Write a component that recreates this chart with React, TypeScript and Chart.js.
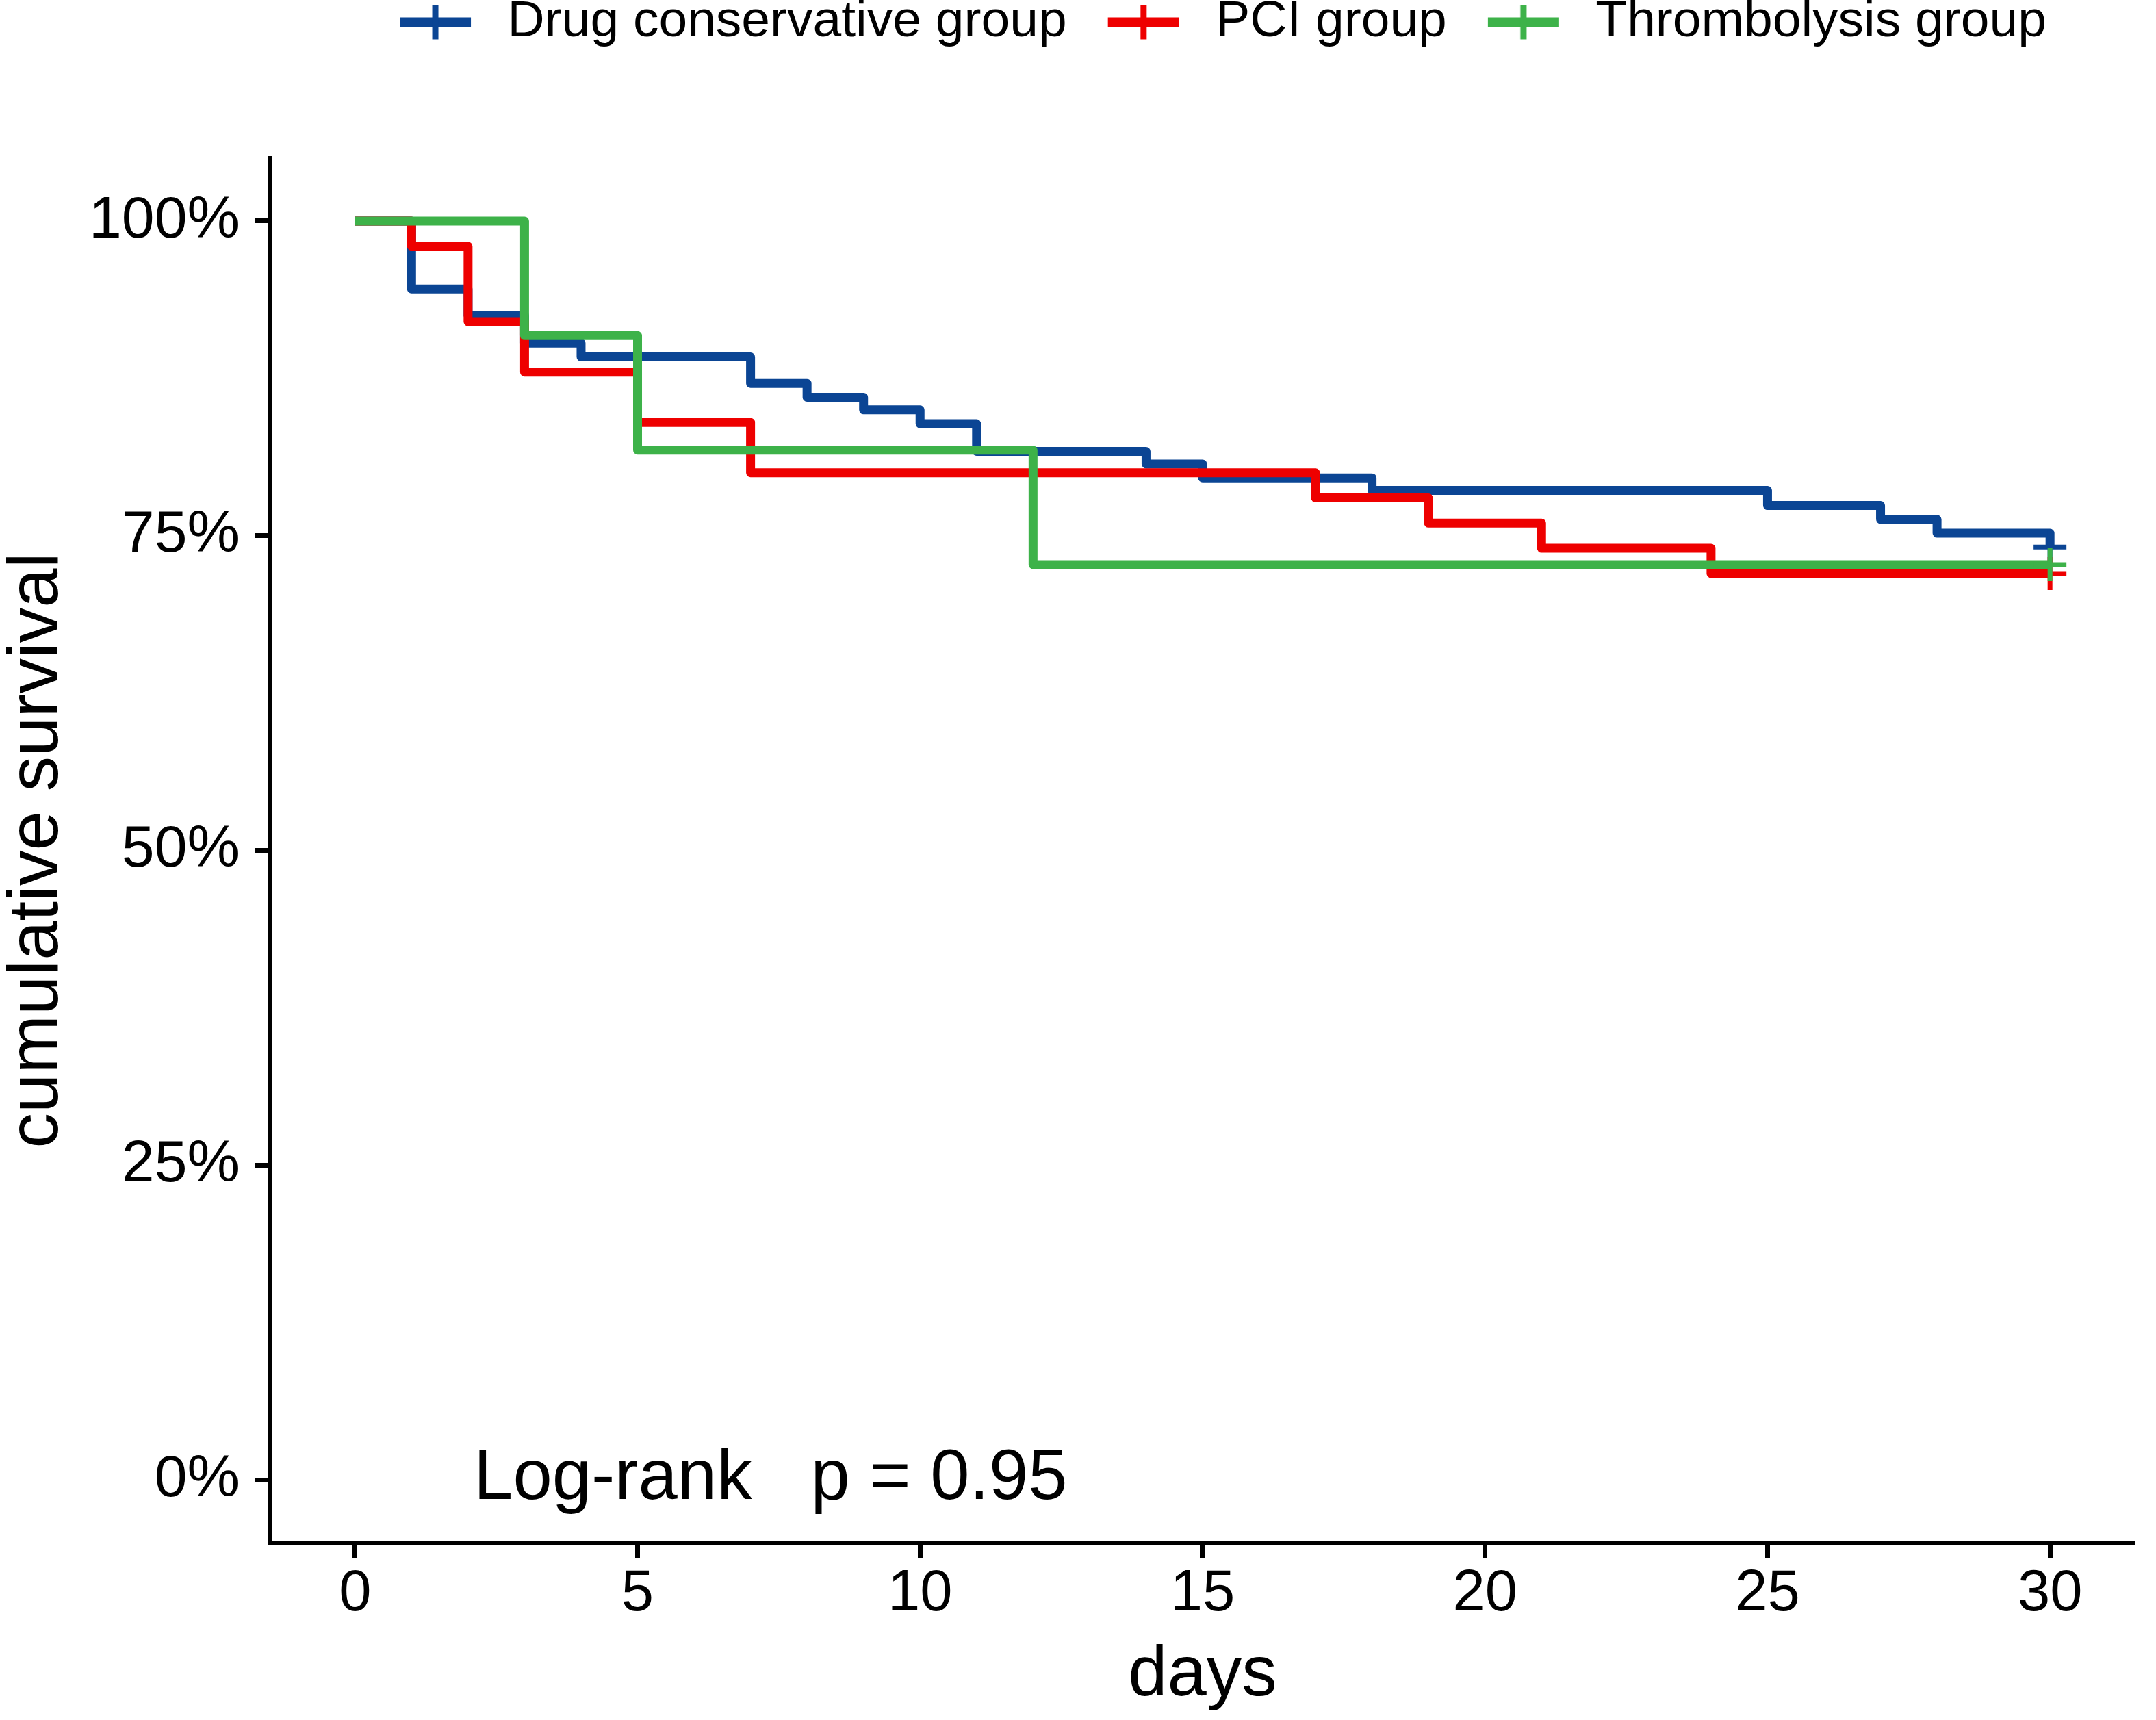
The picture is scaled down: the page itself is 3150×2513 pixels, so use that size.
import { useEffect, useRef } from 'react';
import Chart from 'chart.js/auto';

const FONT = "'Liberation Sans', Arial, sans-serif";

const GROUPS = ['Drug conservative group', 'PCI group', 'Thrombolysis group'];
const COLORS = ['#0B4594', '#EE0000', '#3DB249'];

// Kaplan-Meier steps: day of each drop and survival after it
const DRUG_DAYS = [0, 1, 2, 3, 4, 7, 8, 9, 10, 11, 14, 15, 18, 25, 27, 28, 30];
const DRUG_SURV = [1.0, 0.946, 0.925, 0.903, 0.892, 0.871, 0.86, 0.85, 0.839, 0.817, 0.807, 0.796, 0.786, 0.774, 0.763, 0.752, 0.741];
const PCI_DAYS = [0, 1, 2, 3, 5, 7, 17, 19, 21, 24, 30];
const PCI_SURV = [1.0, 0.98, 0.92, 0.88, 0.84, 0.8, 0.78, 0.76, 0.74, 0.72, 0.72];
const THROMB_DAYS = [0, 3, 5, 12, 30];
const THROMB_SURV = [1.0, 0.909, 0.818, 0.727, 0.727];

const X_TICKS = [0, 5, 10, 15, 20, 25, 30];
const Y_TICKS = [0, 0.25, 0.5, 0.75, 1];

const PVAL_TEXT = 'Log-rank   p = 0.95';
const PVAL_X = 2.1;
const PVAL_Y = 0;

const KEY_W = 180;
const KEY_H = 64;
const LEGEND_H = 236;

// legend key: thick line with a thin "+" censor tick, like survminer
function makeKey(color: string) {
  const c = document.createElement('canvas');
  c.width = KEY_W;
  c.height = KEY_H;
  const g = c.getContext('2d')!;
  g.fillStyle = color;
  g.fillRect(60, KEY_H / 2 - 7, 104, 14);
  g.fillRect(60 + 52 - 4.5, KEY_H / 2 - 25, 9, 50);
  return c;
}

const legendHeight = {
  id: 'legendHeight',
  beforeInit(chart: any) {
    const fit = chart.legend.fit;
    chart.legend.fit = function () {
      fit.call(this);
      this.height = LEGEND_H;
    };
  },
};

const pvalText = {
  id: 'pvalText',
  afterDatasetsDraw(chart: any) {
    const { ctx, scales } = chart;
    ctx.save();
    ctx.font = `103px ${FONT}`;
    ctx.fillStyle = '#000';
    ctx.textAlign = 'left';
    ctx.textBaseline = 'middle';
    ctx.fillText(PVAL_TEXT, scales.x.getPixelForValue(PVAL_X), scales.y.getPixelForValue(PVAL_Y));
    ctx.restore();
  },
};

const App = () => {
  const canvasRef = useRef<HTMLCanvasElement>(null);

  useEffect(() => {
    if (!canvasRef.current) return;
    const keys = COLORS.map(makeKey);

    const series = [
      { days: DRUG_DAYS, surv: DRUG_SURV, order: 3 },
      { days: PCI_DAYS, surv: PCI_SURV, order: 2 },
      { days: THROMB_DAYS, surv: THROMB_SURV, order: 1 },
    ];

    const axisGrid = {
      drawOnChartArea: false,
      drawTicks: true,
      tickLength: 22,
      tickWidth: 7,
      tickColor: '#000',
    };
    const axisBorder = { display: true, color: '#000', width: 7 };

    const chart = new Chart(canvasRef.current, {
      type: 'line',
      data: {
        datasets: series.map((s, i) => ({
          label: GROUPS[i],
          data: s.days.map((d, j) => ({ x: d, y: s.surv[j] })),
          borderColor: COLORS[i],
          backgroundColor: COLORS[i],
          borderWidth: 13,
          borderJoinStyle: 'round',
          borderCapStyle: 'butt',
          stepped: true,
          fill: false,
          pointStyle: 'cross',
          pointRadius: (ctx: any) => (ctx.dataIndex === s.days.length - 1 ? 24 : 0),
          pointHoverRadius: 0,
          pointBorderWidth: 7,
          pointBorderColor: COLORS[i],
          order: s.order,
        })),
      },
      options: {
        animation: false,
        responsive: true,
        maintainAspectRatio: false,
        events: [],
        layout: { padding: { top: -5, left: 0, right: 8, bottom: 0 } },
        plugins: {
          tooltip: { enabled: false },
          legend: {
            position: 'top',
            fullSize: false,
            labels: {
              usePointStyle: true,
              pointStyleWidth: KEY_W,
              padding: 0,
              color: '#000',
              font: { family: FONT, size: 75 },
              sort: (a: any, b: any) => a.datasetIndex - b.datasetIndex,
              generateLabels: (c: any) =>
                Chart.defaults.plugins.legend.labels
                  .generateLabels(c)
                  .map((item: any) => ({ ...item, pointStyle: keys[item.datasetIndex] })),
            },
          },
        },
        scales: {
          x: {
            type: 'linear',
            min: -1.5,
            max: 31.5,
            afterBuildTicks: (axis: any) => {
              axis.ticks = X_TICKS.map((value) => ({ value }));
            },
            ticks: {
              color: '#000',
              padding: 11.5,
              maxRotation: 0,
              autoSkip: false,
              font: { family: FONT, size: 85, lineHeight: 1 },
            },
            grid: axisGrid,
            border: axisBorder,
            title: {
              display: true,
              text: 'days',
              color: '#000',
              font: { family: FONT, size: 103, lineHeight: 1 },
              padding: { top: 13.5, bottom: 12.5 },
            },
          },
          y: {
            type: 'linear',
            min: -0.05,
            max: 1.05,
            afterBuildTicks: (axis: any) => {
              axis.ticks = Y_TICKS.map((value) => ({ value }));
            },
            ticks: {
              color: '#000',
              padding: 23,
              font: { family: FONT, size: 86, lineHeight: 1 },
              callback: (v: any) => `${Math.round(Number(v) * 100)}%`,
            },
            grid: axisGrid,
            border: axisBorder,
            title: {
              display: true,
              text: 'cumulative survival',
              color: '#000',
              font: { family: FONT, size: 103, lineHeight: 1 },
              padding: { top: 4, bottom: 0 },
            },
          },
        },
      },
      plugins: [legendHeight, pvalText],
    } as any);

    return () => {
      chart.destroy();
    };
  }, []);

  return (
    <div style={{ position: 'fixed', left: 0, top: 0, width: 3150, height: 2513, background: '#fff' }}>
      <canvas ref={canvasRef} />
    </div>
  );
};

export default App;
